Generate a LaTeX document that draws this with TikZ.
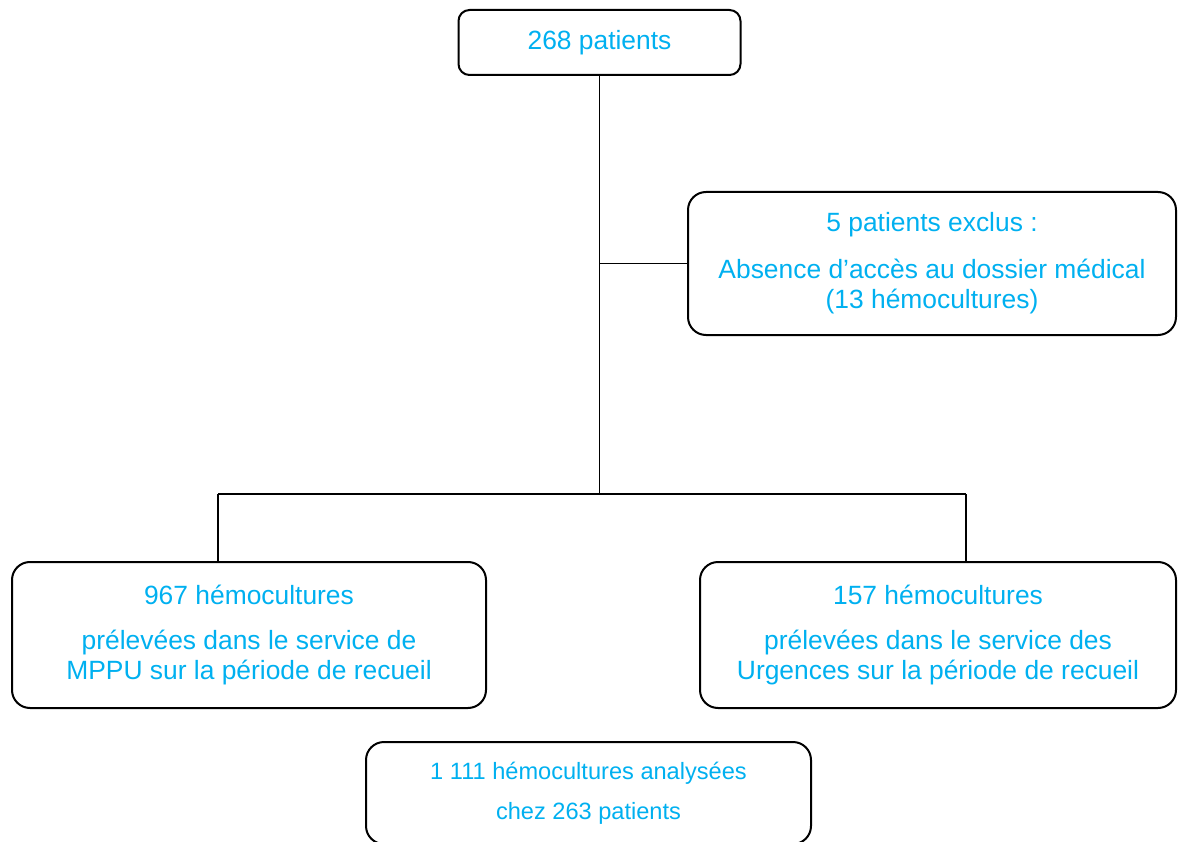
\documentclass[tikz,border=0pt]{standalone}
\usepackage{fontspec}
\setmainfont{Liberation Sans}
\definecolor{txtblue}{HTML}{00B0F0}
\begin{document}
\begin{tikzpicture}[x=1pt,y=-1pt,
  box/.style={draw=black,line width=2pt,rounded corners=18pt,inner sep=0pt,
    align=center,text=txtblue,font=\fontsize{26.4}{30}\selectfont},
  link/.style={draw=black,line width=1.5pt}]
\useasboundingbox (0,0) rectangle (1178,842);
\begin{scope}
\clip (0,0) rectangle (1178,842);
\node[box,rounded corners=11pt,minimum width=282pt,minimum height=65pt] (top) at (599.5,42.5) {268 patients};
\node[box,minimum width=488pt,minimum height=143pt] (excl) at (932,263.5)
  {5 patients exclus :\\[17pt]Absence d’accès au dossier médical\\(13 hémocultures)};
\node[box,minimum width=474pt,minimum height=146pt] (left) at (249,635)
  {967 hémocultures\\[15pt]prélevées dans le service de\\MPPU sur la période de recueil};
\node[box,minimum width=476pt,minimum height=146pt] (right) at (938,635)
  {157 hémocultures\\[15pt]prélevées dans le service des\\Urgences sur la période de recueil};
\node[box,minimum width=445pt,minimum height=102pt,font=\fontsize{23.6}{28}\selectfont] (bottom) at (588.5,793)
  {1 111 hémocultures analysées\\[12pt]chez 263 patients};
\end{scope}
\coordinate (j) at (599.5,494);
\coordinate (cl) at (218,494);
\coordinate (cr) at (966,494);
\draw[link] (top.south) -- (j);
\draw[link] (top.south |- excl.west) -- (excl.west);
\draw[link] (cl) -- (cr);
\draw[link] (cl) -- (cl |- left.north);
\draw[link] (cr) -- (cr |- right.north);
\end{tikzpicture}
\end{document}
